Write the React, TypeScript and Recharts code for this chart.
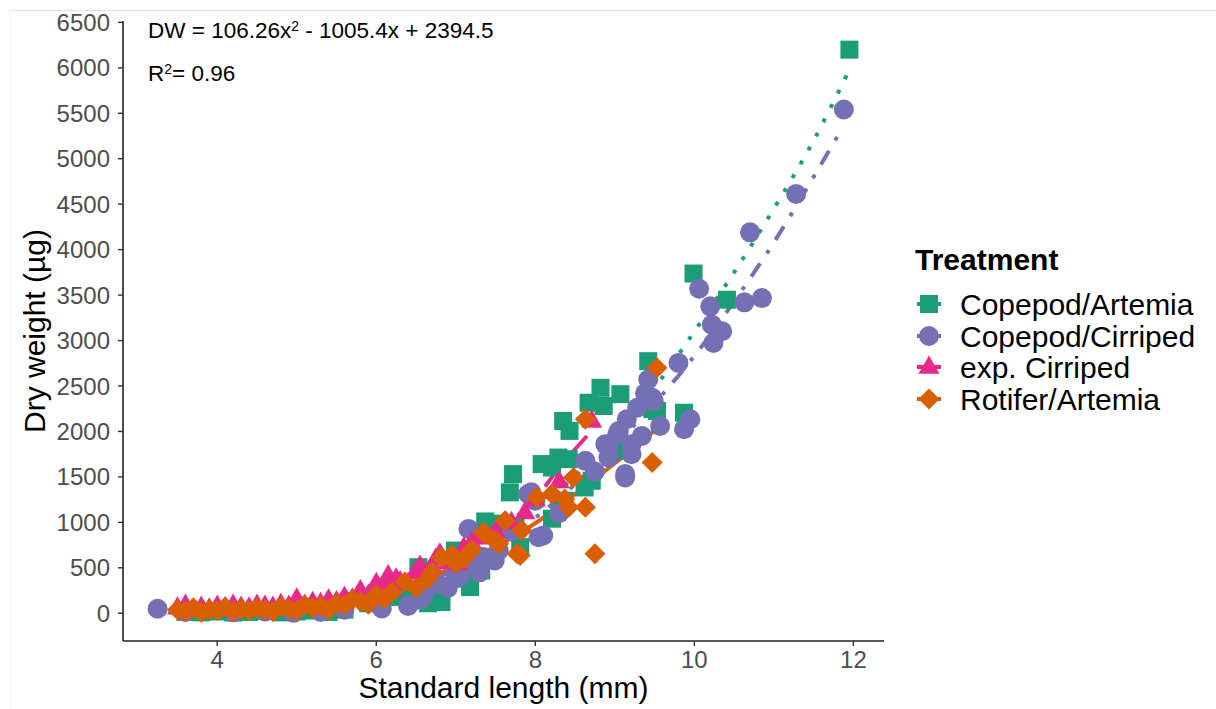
import { ComposedChart, Scatter, Line, XAxis, YAxis } from "recharts";

const FONT = '"Liberation Sans", Arial, Helvetica, sans-serif';

const treatments = ["Copepod/Artemia", "Copepod/Cirriped", "exp. Cirriped", "Rotifer/Artemia"];
const colors = ["#1B9E77", "#7570B3", "#E7298A", "#D95F02"];
const dashes = ["4 12", "4 12 16 12", "28 12", undefined];

const xTicks = [4, 6, 8, 10, 12];
const yTicks = [0, 500, 1000, 1500, 2000, 2500, 3000, 3500, 4000, 4500, 5000, 5500, 6000, 6500];

// [standard length (mm), dry weight (µg)]
const copepodArtemia = [
  [3.6, 15], [3.8, 10], [4.0, 20], [4.2, 8], [4.4, 15], [4.6, 25], [4.8, 10], [5.0, 20],
  [5.2, 30], [5.4, 15], [5.6, 40], [5.9, 110], [6.2, 180], [6.3, 260], [6.4, 230], [6.53, 507],
  [6.65, 110], [6.7, 170], [6.82, 124], [6.99, 690], [7.0, 420], [7.1, 380], [7.18, 288],
  [7.25, 620], [7.32, 471], [7.37, 1010], [7.54, 986], [7.68, 1330], [7.72, 1531], [7.75, 960],
  [7.81, 727], [8.08, 1641], [8.21, 1603], [8.21, 1040], [8.29, 1713], [8.33, 1205], [8.35, 2115],
  [8.37, 1238], [8.42, 1695], [8.43, 2006], [8.62, 1384], [8.67, 2316], [8.71, 1458], [8.82, 2480],
  [8.86, 2280], [9.07, 2410], [9.13, 1786], [9.42, 2773], [9.47, 2247], [9.53, 2225], [9.87, 2206],
  [9.99, 3737], [10.41, 3449], [11.95, 6200],
];

const copepodCirriped = [
  [3.25, 50], [3.6, 15], [4.2, 10], [4.6, 20], [4.96, 5], [5.3, 15], [5.6, 40], [6.07, 52],
  [6.4, 80], [6.55, 150], [6.6, 200], [6.78, 325], [6.9, 280], [6.99, 435], [7.05, 400],
  [7.16, 928], [7.2, 545], [7.3, 450], [7.35, 620], [7.49, 581], [7.54, 690], [7.7, 900],
  [7.91, 1312], [7.95, 1330], [8.0, 1238], [8.04, 836], [8.1, 855], [8.3, 1100], [8.63, 1677],
  [8.75, 1560], [8.88, 1860], [8.92, 1713], [8.92, 1823], [9.03, 1969], [9.05, 2006], [9.13, 1531],
  [9.13, 1494], [9.15, 2134], [9.21, 1860], [9.21, 1750], [9.28, 2261], [9.34, 1951], [9.38, 2420],
  [9.42, 2572], [9.47, 2371], [9.49, 2334], [9.57, 2060], [9.8, 2754], [9.87, 2024], [9.95, 2134],
  [10.06, 3570], [10.2, 3376], [10.22, 3175], [10.24, 2974], [10.35, 3102], [10.63, 3420],
  [10.7, 4190], [10.85, 3467], [11.28, 4613], [11.88, 5541],
];

const expCirriped = [
  [3.5, 60], [3.6, 90], [3.7, 40], [3.8, 70], [3.9, 50], [4.0, 80], [4.1, 60], [4.2, 90],
  [4.3, 70], [4.4, 60], [4.5, 90], [4.6, 80], [4.7, 70], [4.8, 100], [4.9, 80], [5.0, 160],
  [5.1, 90], [5.2, 120], [5.3, 110], [5.4, 150], [5.5, 130], [5.6, 180], [5.7, 160], [5.8, 250],
  [5.9, 200], [6.0, 330], [6.1, 280], [6.15, 415], [6.2, 260], [6.25, 380], [6.3, 350], [6.4, 330],
  [6.49, 450], [6.55, 520], [6.6, 420], [6.7, 520], [6.75, 600], [6.8, 655], [6.9, 560], [7.03, 545],
  [7.1, 720], [7.15, 700], [7.2, 780], [7.3, 830], [7.5, 900], [7.7, 1000], [7.87, 1110],
  [8.0, 1250], [8.3, 1450], [8.71, 2115],
];

const rotiferArtemia = [
  [3.5, 40], [3.6, 20], [3.7, 60], [3.8, 10], [3.9, 40], [4.0, 30], [4.1, 70], [4.2, 20],
  [4.3, 50], [4.4, 30], [4.5, 60], [4.6, 40], [4.7, 20], [4.8, 70], [4.9, 50], [5.0, 30],
  [5.1, 90], [5.2, 60], [5.3, 80], [5.4, 40], [5.5, 110], [5.6, 90], [5.7, 150], [5.8, 130],
  [5.9, 100], [6.0, 200], [6.1, 160], [6.2, 230], [6.36, 343], [6.5, 280], [6.65, 380], [6.7, 450],
  [6.82, 617], [6.95, 640], [7.0, 550], [7.1, 600], [7.2, 700], [7.35, 891], [7.37, 873],
  [7.49, 800], [7.54, 764], [7.62, 1019], [7.77, 654], [7.81, 636], [7.83, 910], [8.02, 1275],
  [8.21, 1312], [8.37, 1257], [8.42, 1165], [8.48, 1494], [8.63, 1165], [8.63, 2134], [8.75, 654],
  [9.47, 1658], [9.53, 2700],
];

// fitted curves, one per treatment
const copepodArtemiaFit = [
  [3.55, 80], [4, 45], [4.5, 30], [5, 45], [5.5, 110], [6, 220], [6.5, 360], [7, 560], [7.5, 810],
  [8, 1130], [8.5, 1510], [9, 1950], [9.5, 2480], [10, 3100], [10.5, 3750], [11, 4450],
  [11.5, 5200], [11.95, 5980],
];
const copepodCirripedFit = [
  [3.3, 60], [4, 25], [4.5, 20], [5, 45], [5.5, 100], [6, 180], [6.5, 310], [7, 490], [7.5, 740],
  [8, 1050], [8.5, 1420], [9, 1850], [9.5, 2310], [10, 2830], [10.5, 3430], [11, 4080],
  [11.5, 4800], [11.85, 5320],
];
const expCirripedFit = [
  [3.5, 60], [4, 45], [4.5, 55], [5, 100], [5.5, 180], [6, 300], [6.5, 460], [7, 650], [7.5, 900],
  [8, 1260], [8.3, 1600], [8.65, 1950],
];
const rotiferArtemiaFit = [
  [3.5, 45], [4, 30], [4.5, 35], [5, 65], [5.5, 125], [6, 215], [6.5, 340], [7, 520], [7.5, 730],
  [8, 990], [8.5, 1310], [9, 1650], [9.5, 2010],
];

const toPts = (rows: number[][]) => rows.map(([x, y]) => ({ x, y }));

const pointSets = [copepodArtemia, copepodCirriped, expCirriped, rotiferArtemia].map(toPts);
const fitSets = [copepodArtemiaFit, copepodCirripedFit, expCirripedFit, rotiferArtemiaFit].map(toPts);

function marker(i: number, cx: number, cy: number, fill: string) {
  if (i === 0) return <rect x={cx - 9} y={cy - 9} width={18} height={18} fill={fill} />;
  if (i === 1) return <circle cx={cx} cy={cy} r={10} fill={fill} />;
  if (i === 2)
    return <polygon points={`${cx},${cy - 11.5} ${cx - 10.5},${cy + 6.8} ${cx + 10.5},${cy + 6.8}`} fill={fill} />;
  return <polygon points={`${cx},${cy - 10.5} ${cx + 10.5},${cy} ${cx},${cy + 10.5} ${cx - 10.5},${cy}`} fill={fill} />;
}

const yTitle = (props: any) => {
  const { viewBox } = props;
  const x = viewBox.x + 45;
  const y = 331;
  return (
    <text x={x} y={y} transform={`rotate(-90 ${x} ${y})`} textAnchor="middle" fontSize={30} fontFamily={FONT} fill="#000">
      Dry weight (µg)
    </text>
  );
};

export default function App() {
  const legendRows = [315, 347, 378, 410];
  return (
    <div style={{ position: "absolute", left: 0, top: 0, width: 1216, height: 709, background: "#fff" }}>
      <ComposedChart width={1216} height={709} margin={{ top: 21, right: 332, bottom: 0, left: 0 }}>
        <XAxis
          type="number"
          dataKey="x"
          domain={[2.815, 12.385]}
          ticks={xTicks}
          height={68}
          tickSize={5}
          tickMargin={5}
          axisLine={{ stroke: "#222", strokeWidth: 1.6 }}
          tickLine={{ stroke: "#333", strokeWidth: 1.4 }}
          tick={{ fill: "#4d4d4d", fontSize: 24, fontFamily: FONT }}
          label={{
            value: "Standard length (mm)",
            position: "insideBottom",
            offset: 11,
            style: { fontSize: 30, fontFamily: FONT, fill: "#000" },
          }}
        />
        <YAxis
          type="number"
          dataKey="y"
          domain={[-305, 6515]}
          ticks={yTicks}
          width={123}
          tickSize={5}
          tickMargin={8}
          axisLine={{ stroke: "#222", strokeWidth: 1.6 }}
          tickLine={{ stroke: "#333", strokeWidth: 1.4 }}
          tick={{ fill: "#4d4d4d", fontSize: 24, fontFamily: FONT }}
          label={{ content: yTitle }}
        />
        {pointSets.map((pts, i) => (
          <Scatter
            key={treatments[i]}
            name={treatments[i]}
            data={pts}
            fill={colors[i]}
            isAnimationActive={false}
            shape={(p: any) => marker(i, p.cx, p.cy, colors[i])}
          />
        ))}
        {fitSets.map((pts, i) => (
          <Line
            key={treatments[i] + "-fit"}
            data={pts}
            dataKey="y"
            type="monotone"
            stroke={colors[i]}
            strokeWidth={4}
            strokeDasharray={dashes[i]}
            dot={false}
            activeDot={false}
            legendType="none"
            isAnimationActive={false}
          />
        ))}
      </ComposedChart>

      <svg width={1216} height={709} style={{ position: "absolute", left: 0, top: 0, pointerEvents: "none" }}>
        <line x1={10} y1={10.5} x2={1216} y2={10.5} stroke="#e4e4e4" strokeWidth={1} />
        <line x1={10.5} y1={10} x2={10.5} y2={709} stroke="#f0f0f0" strokeWidth={1} />

        <text x={148} y={38} fontSize={22.5} fontFamily={FONT} fill="#000">
          DW = 106.26x<tspan dy={-7} fontSize={14}>2</tspan>
          <tspan dy={7}> - 1005.4x + 2394.5</tspan>
        </text>
        <text x={148} y={81} fontSize={22.5} fontFamily={FONT} fill="#000">
          R<tspan dy={-7} fontSize={14}>2</tspan>
          <tspan dy={7}>= 0.96</tspan>
        </text>

        <text x={915} y={270} fontSize={30} fontWeight="bold" fontFamily={FONT} fill="#000">
          Treatment
        </text>
        {treatments.map((name, i) => {
          const base = legendRows[i];
          const cy = base - 11;
          return (
            <g key={name}>
              <line x1={917} y1={cy} x2={941} y2={cy} stroke={colors[i]} strokeWidth={4} />
              {marker(i, 929, cy, colors[i])}
              <text x={960} y={base} fontSize={30} fontFamily={FONT} fill="#000">
                {name}
              </text>
            </g>
          );
        })}
      </svg>
    </div>
  );
}
